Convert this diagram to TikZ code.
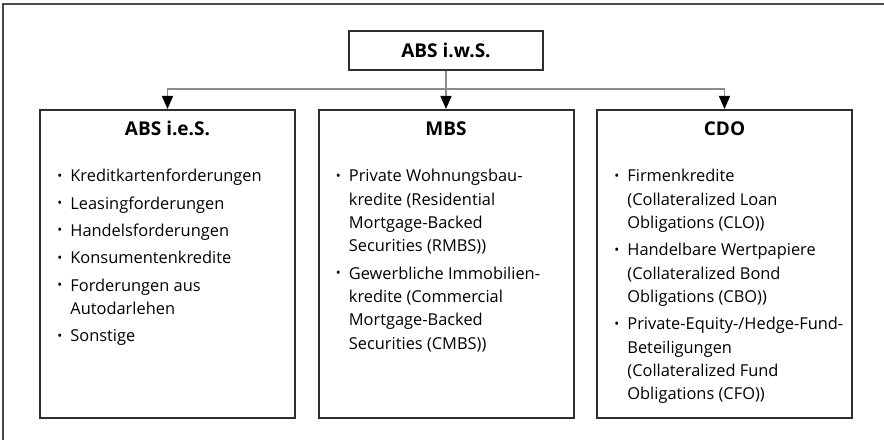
\documentclass[tikz,border=0pt]{standalone}
\usepackage{fontspec}
\setmainfont{Open Sans}
\usetikzlibrary{arrows.meta}
\definecolor{FrameGrey}{HTML}{4A4A4A}
\definecolor{BoxGrey}{HTML}{2E2E2E}
\definecolor{LinkGrey}{HTML}{8C8C8C}
\newcommand{\bul}{\raisebox{0.2ex}{\scalebox{0.8}{\textbullet}}}

\begin{document}
\begin{tikzpicture}[x=0.5pt, y=0.5pt,
        topbox/.style={draw=BoxGrey, line width=1pt, minimum width=97pt, minimum height=19.5pt, inner sep=0pt, font=\fontsize{9.5}{11}\selectfont\bfseries},
        catbox/.style={draw=BoxGrey, line width=1pt, minimum width=127.5pt, minimum height=154pt, inner sep=0pt, anchor=north},
        head/.style={anchor=base, inner sep=0pt, font=\fontsize{9.5}{11}\selectfont\bfseries},
        itemlist/.style={anchor=base west, inner sep=0pt, font=\fontsize{8.2}{11.65}\selectfont},
        link/.style={draw=LinkGrey, line width=0.7pt},
        tip/.style={-{Triangle[width=5.5pt, length=6.5pt, black]}}]
                \useasboundingbox (0,0) rectangle (884,440);
                \draw[FrameGrey, line width=1pt] (884,436) -- (3,436) -- (3,0);
                \node[topbox] (absws) at (446,389.5) {ABS i.w.S.};
                \node[catbox] (abses) at (167.5,331) {};
                \node[catbox] (mbs) at (446,331) {};
                \node[catbox] (cdo) at (724.5,331) {};
                \draw[link] (absws.south) -- ++(0,-18) coordinate (fork);
                \draw[link, tip] (fork) -| (abses.north);
                \draw[link, tip] (fork) -- (mbs.north);
                \draw[link, tip] (fork) -| (cdo.north);
                \path (abses.north) ++(0,-27) node[head] (absesT) {ABS i.e.S.};
                \path (mbs.north) ++(0,-27) node[head] (mbsT) {MBS};
                \path (cdo.north) ++(0,-27) node[head] (cdoT) {CDO};
                \path (abses.north west) ++(18,-73) node[itemlist] (absesL) {%
                    \begin{tabular}[t]{@{}p{6.5pt}@{}l@{}}
                    \bul & Kreditkartenforderungen\\[2pt]
                    \bul & Leasingforderungen\\[2pt]
                    \bul & Handelsforderungen\\[2pt]
                    \bul & Konsumentenkredite\\[2pt]
                    \bul & Forderungen aus\\
                         & Autodarlehen\\[2pt]
                    \bul & Sonstige
                    \end{tabular}};
                \path (mbs.north west) ++(18,-73) node[itemlist] (mbsL) {%
                    \begin{tabular}[t]{@{}p{6.5pt}@{}l@{}}
                    \bul & Private Wohnungsbau-\\
                         & kredite (Residential\\
                         & Mortgage-Backed\\
                         & Securities (RMBS))\\[2pt]
                    \bul & Gewerbliche Immobilien-\\
                         & kredite (Commercial\\
                         & Mortgage-Backed\\
                         & Securities (CMBS))
                    \end{tabular}};
                \path (cdo.north west) ++(18,-73) node[itemlist] (cdoL) {%
                    \begin{tabular}[t]{@{}p{6.5pt}@{}l@{}}
                    \bul & Firmenkredite\\
                         & (Collateralized Loan\\
                         & Obligations (CLO))\\[2pt]
                    \bul & Handelbare Wertpapiere\\
                         & (Collateralized Bond\\
                         & Obligations (CBO))\\[2pt]
                    \bul & Private-Equity-/Hedge-Fund-\\
                         & Beteiligungen\\
                         & (Collateralized Fund\\
                         & Obligations (CFO))
                    \end{tabular}};
            \end{tikzpicture}
\end{document}
